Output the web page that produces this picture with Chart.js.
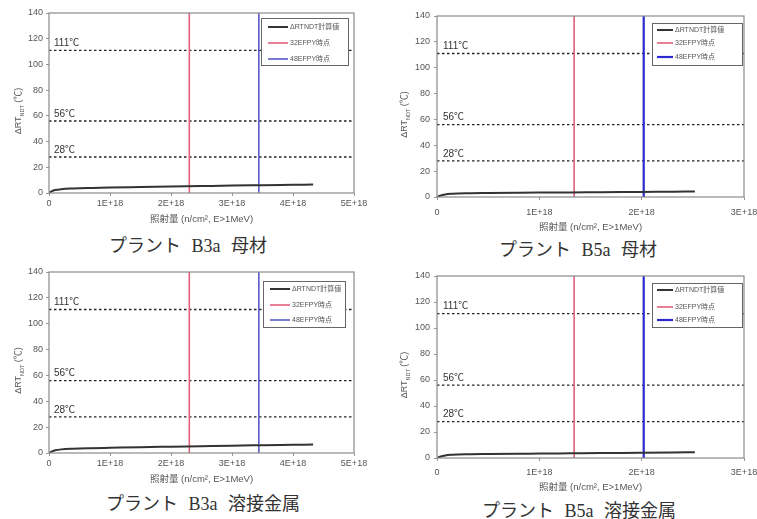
<!DOCTYPE html>
<html><head><meta charset="utf-8">
<script src="https://cdn.jsdelivr.net/npm/chart.js@4"></script>
<style>
body{margin:0;background:#fff;width:757px;height:519px;position:relative;overflow:hidden}
.c{position:absolute}
.cap{position:absolute;transform:translate(-50%,-50%);font-family:'Liberation Serif','Noto Sans CJK JP',serif;font-size:18px;line-height:1;color:#333;white-space:pre;letter-spacing:0;word-spacing:6px}
</style></head><body>
<canvas id="cA" class="c" width="375" height="232" style="left:0;top:0"></canvas>
<canvas id="cB" class="c" width="377" height="236" style="left:380px;top:0"></canvas>
<canvas id="cC" class="c" width="375" height="236" style="left:0;top:258px"></canvas>
<canvas id="cD" class="c" width="377" height="236" style="left:380px;top:262px"></canvas>
<div class="cap" id="capA" style="left:188px;top:246px"></div>
<div class="cap" id="capB" style="left:578px;top:250px"></div>
<div class="cap" id="capC" style="left:203px;top:504px"></div>
<div class="cap" id="capD" style="left:579px;top:511px"></div>
<script>
// ---- data ----
const b3aFluence   = [0, 0.05e18, 0.1e18, 0.2e18, 0.4e18, 0.7e18, 1.0e18, 1.5e18, 2.0e18, 2.5e18, 3.0e18, 3.5e18, 4.0e18, 4.33e18];
const b3aBaseDelta = [0, 1.5, 2.3, 3.0, 3.5, 3.9, 4.2, 4.6, 5.0, 5.4, 5.8, 6.1, 6.4, 6.6];
const b3aWeldDelta = [0, 1.3, 2.1, 2.8, 3.3, 3.7, 4.0, 4.5, 4.9, 5.3, 5.7, 6.0, 6.3, 6.5];
const b5aFluence   = [0, 0.03e18, 0.08e18, 0.15e18, 0.3e18, 0.5e18, 0.8e18, 1.0e18, 1.3e18, 1.6e18, 2.0e18, 2.3e18, 2.52e18];
const b5aBaseDelta = [0, 1.0, 2.0, 2.5, 2.9, 3.1, 3.3, 3.4, 3.5, 3.7, 3.9, 4.1, 4.2];
const b5aWeldDelta = [0, 1.0, 2.0, 2.5, 2.9, 3.1, 3.3, 3.4, 3.6, 3.8, 4.0, 4.2, 4.4];
const b3aEfpy = [2.30e18, 3.44e18];   // 32EFPY, 48EFPY
const b5aEfpy = [1.34e18, 2.02e18];
const thresholds = [111, 56, 28];
const yTicks = [0, 20, 40, 60, 80, 100, 120, 140];
const b3aXTicks = ['0', '1E+18', '2E+18', '3E+18', '4E+18', '5E+18'];
const b5aXTicks = ['0', '1E+18', '2E+18', '3E+18'];
const seriesLabels = ['ΔRTNDT計算値', '32EFPY時点', '48EFPY時点'];
const xTitle = '照射量 (n/cm², E>1MeV)';
const captions = ['プラント B3a 母材', 'プラント B5a 母材', 'プラント B3a 溶接金属', 'プラント B5a 溶接金属'];

['capA','capB','capC','capD'].forEach((id,i)=>document.getElementById(id).textContent = captions[i]);

const FONT = '"Liberation Sans","Noto Sans CJK JP",sans-serif';

const decor = {
  id: 'decor',
  afterDatasetsDraw(chart, args, o) {
    const {ctx, chartArea: a, scales: {x, y}} = chart;
    ctx.save();
    // frame
    ctx.strokeStyle = '#8a8a8a'; ctx.lineWidth = 1.2;
    ctx.strokeRect(a.left, a.top, a.right - a.left, a.bottom - a.top);
    // threshold labels
    ctx.font = '10px ' + FONT;
    ctx.fillStyle = '#333'; ctx.textBaseline = 'middle'; ctx.textAlign = 'left';
    thresholds.forEach(t => ctx.fillText(t + '℃', x.getPixelForValue(0) + o.labDx, y.getPixelForValue(t) - o.labDy));
    // legend box
    const L = o.leg;
    const bx = a.right - L.r - L.w, by = a.top + L.t;
    ctx.fillStyle = '#fff'; ctx.fillRect(bx, by, L.w, L.h);
    ctx.strokeStyle = '#666'; ctx.lineWidth = 1; ctx.strokeRect(bx + 0.5, by + 0.5, L.w, L.h);
    ctx.font = '7px ' + FONT;
    chart.data.datasets.slice(0, 3).forEach((ds, i) => {
      const ry = by + L.rows[i];
      ctx.strokeStyle = ds.borderColor; ctx.lineWidth = ds.borderWidth; ctx.setLineDash([]);
      ctx.beginPath(); ctx.moveTo(bx + L.lx0, ry); ctx.lineTo(bx + L.lx1, ry); ctx.stroke();
      ctx.fillStyle = '#555'; ctx.textBaseline = 'middle';
      ctx.fillText(ds.label, bx + L.lx1 + 2, ry);
    });
    // y title with subscript
    ctx.translate(o.yTitleX, (a.top + a.bottom) / 2 + 8);
    ctx.rotate(-Math.PI / 2);
    const big = '9px ' + FONT, small = '5.5px ' + FONT;
    ctx.font = big; const w1 = ctx.measureText('ΔRT').width, w3 = ctx.measureText(' (℃)').width;
    ctx.font = small; const w2 = ctx.measureText('NDT').width;
    let sx = -(w1 + w2 + w3) / 2;
    ctx.fillStyle = '#555'; ctx.textAlign = 'left'; ctx.textBaseline = 'middle';
    ctx.font = big; ctx.fillText('ΔRT', sx, 0); sx += w1;
    ctx.font = small; ctx.fillText('NDT', sx, 3); sx += w2;
    ctx.font = big; ctx.fillText(' (℃)', sx, 0);
    ctx.restore();
  }
};

function makeChart(id, p) {
  const xMax = (p.xTicks.length - 1) * 1e18;
  const yMax = yTicks[yTicks.length - 1];
  const datasets = [
    {label: seriesLabels[0], data: p.fluence.map((f, i) => ({x: f, y: p.delta[i]})), borderColor: '#333', borderWidth: 2, cubicInterpolationMode: 'monotone'},
    {label: seriesLabels[1], data: [{x: p.efpy[0], y: 0}, {x: p.efpy[0], y: yMax}], borderColor: '#e0607a', borderWidth: 1.6},
    {label: seriesLabels[2], data: [{x: p.efpy[1], y: 0}, {x: p.efpy[1], y: yMax}], borderColor: p.blue, borderWidth: p.blueW},
  ];
  thresholds.forEach(t => datasets.push({label: '', data: [{x: 0, y: t}, {x: xMax, y: t}], borderColor: '#222', borderWidth: 1.3, borderDash: [2.5, 2.5]}));
  datasets.forEach(d => { d.pointRadius = 0; d.fill = false; });
  const el = document.getElementById(id);
  const H = el.height, W = el.width;
  new Chart(el, {
    type: 'line',
    data: {datasets},
    plugins: [decor],
    options: {
      responsive: false, animation: false, devicePixelRatio: 1,
      layout: {padding: {left: 0, top: p.area.t, right: W - p.area.r, bottom: 0}},
      plugins: {legend: {display: false}, tooltip: {enabled: false},
        decor: {labDx: p.labDx, labDy: p.labDy, leg: p.leg, yTitleX: p.yTitleX}},
      scales: {
        x: {type: 'linear', min: 0, max: xMax,
          afterBuildTicks: s => { s.ticks = p.xTicks.map((_, i) => ({value: i * 1e18})); },
          afterFit: s => { s.height = H - p.area.b; s.paddingLeft = 0; s.paddingRight = 0; },
          ticks: {callback: (v, i) => p.xTicks[i], font: {size: 9, family: FONT}, color: '#555', padding: p.tickPad, maxRotation: 0, autoSkip: false},
          grid: {drawOnChartArea: false, tickLength: 3, color: '#999'},
          border: {display: false},
          title: {display: true, text: xTitle, font: {size: 9.5, family: FONT}, color: '#555', padding: {top: 0, bottom: p.titlePad}}
        },
        y: {min: 0, max: yMax,
          afterBuildTicks: s => { s.ticks = yTicks.map(v => ({value: v})); },
          afterFit: s => { s.width = p.area.l; s.paddingTop = 0; s.paddingBottom = 0; },
          ticks: {font: {size: 9, family: FONT}, color: '#555', padding: p.yPad},
          grid: {drawOnChartArea: false, tickLength: 3, color: '#999'},
          border: {display: false}
        }
      }
    }
  });
}

makeChart('cA', {fluence: b3aFluence, delta: b3aBaseDelta, efpy: b3aEfpy, xTicks: b3aXTicks,
  area: {l: 49, t: 13, r: 354, b: 193}, tickPad: 2, titlePad: 7, yPad: 3, yTitleX: 19,
  labDx: 5, labDy: 7, blue: '#5a5ac8', blueW: 1.6,
  leg: {r: 6, t: 5, w: 87, h: 47, rows: [9, 25, 41], lx0: 7, lx1: 27}});
makeChart('cB', {fluence: b5aFluence, delta: b5aBaseDelta, efpy: b5aEfpy, xTicks: b5aXTicks,
  area: {l: 57, t: 16, r: 364, b: 197}, tickPad: 7, titlePad: 3, yPad: 4, yTitleX: 25,
  labDx: 6, labDy: 7, blue: '#2a2ad0', blueW: 2.2,
  leg: {r: 2, t: 7, w: 90, h: 42, rows: [7, 20, 34], lx0: 5, lx1: 21}});
makeChart('cC', {fluence: b3aFluence, delta: b3aWeldDelta, efpy: b3aEfpy, xTicks: b3aXTicks,
  area: {l: 49, t: 14, r: 354, b: 195}, tickPad: 2, titlePad: 9, yPad: 3, yTitleX: 19,
  labDx: 5, labDy: 7, blue: '#5a5ac8', blueW: 1.6,
  leg: {r: 9, t: 9, w: 82, h: 46, rows: [8, 24, 39], lx0: 7, lx1: 27}});
makeChart('cD', {fluence: b5aFluence, delta: b5aWeldDelta, efpy: b5aEfpy, xTicks: b5aXTicks,
  area: {l: 57, t: 14, r: 364, b: 196}, tickPad: 6, titlePad: 5, yPad: 4, yTitleX: 25,
  labDx: 6, labDy: 7, blue: '#2a2ad0', blueW: 2.2,
  leg: {r: 2, t: 7, w: 90, h: 44, rows: [7, 24, 37], lx0: 5, lx1: 21}});
</script>
</body></html>
